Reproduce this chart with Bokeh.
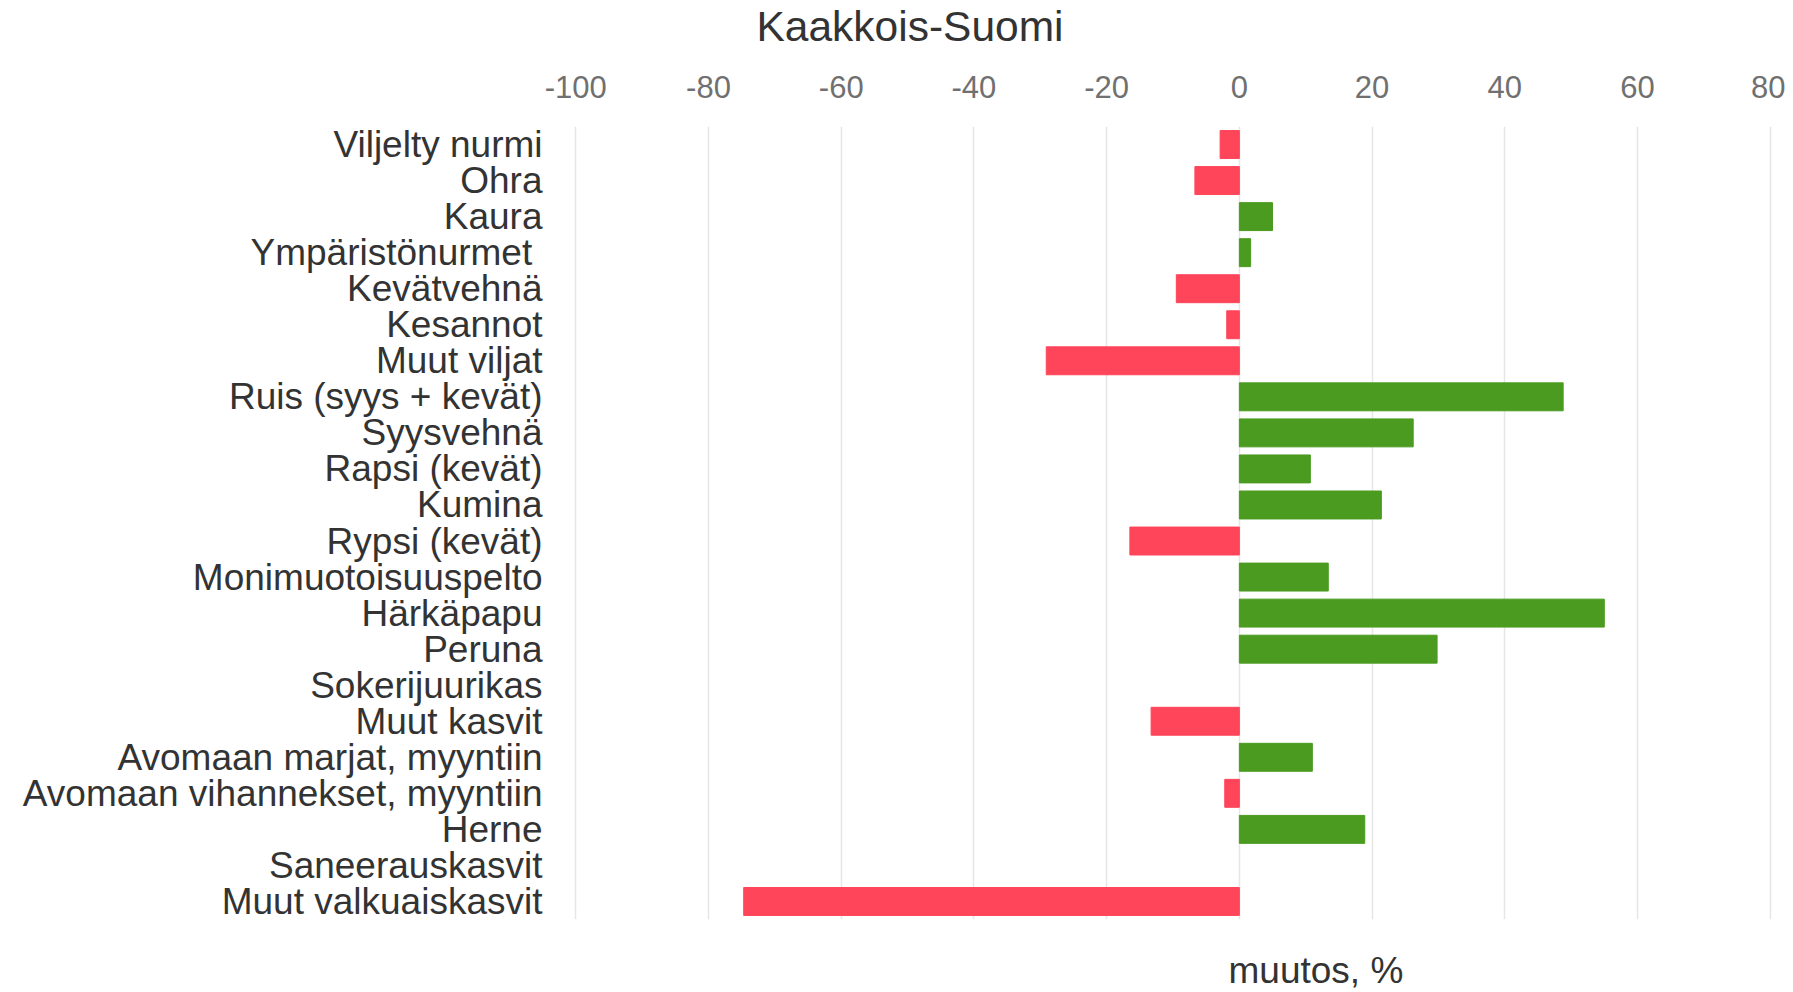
import math
from bokeh.plotting import figure
from bokeh.models import FactorRange, Range1d, FixedTicker, Title, ColumnDataSource, CustomJSTickFormatter
from bokeh.embed import file_html
from bokeh.resources import INLINE

categories = [
    "Viljelty nurmi", "Ohra", "Kaura", "Ympäristönurmet ", "Kevätvehnä", "Kesannot",
    "Muut viljat", "Ruis (syys + kevät)", "Syysvehnä", "Rapsi (kevät)", "Kumina",
    "Rypsi (kevät)", "Monimuotoisuuspelto", "Härkäpapu", "Peruna", "Sokerijuurikas",
    "Muut kasvit", "Avomaan marjat, myyntiin", "Avomaan vihannekset, myyntiin",
    "Herne", "Saneerauskasvit", "Muut valkuaiskasvit",
]
changes = [
    -2.9, -6.7, 5.0, 1.7, -9.5, -1.9,
    -29.1, 48.8, 26.2, 10.7, 21.4,
    -16.5, 13.4, 55.0, 29.8, float("nan"),
    -13.3, 11.0, -2.2,
    18.9, float("nan"), -74.7,
]
tick_values = [-100, -80, -60, -40, -20, 0, 20, 40, 60, 80]
title_text = "Kaakkois-Suomi"
axis_label_text = "muutos, %"

RED = "#ff455a"
GREEN = "#4a9b1f"
colors = [RED if (not math.isnan(v) and v < 0) else GREEN for v in changes]

src = ColumnDataSource(dict(cat=categories, val=changes, col=colors))

FONT = "Liberation Sans"

p = figure(
    width=1785, height=992,
    y_range=FactorRange(factors=list(reversed(categories)), range_padding=0),
    x_range=Range1d(-100.5, 80.5),
    x_axis_location="above",
    output_backend="svg", toolbar_location=None,
    min_border_left=572, min_border_right=12,
    min_border_top=126, min_border_bottom=73,
    title=None,
)
p.outline_line_color = None

p.hbar(y="cat", left=0, right="val", height=0.775, color="col", source=src)

xa = p.xaxis[0]
xa.ticker = FixedTicker(ticks=tick_values)
xa.formatter = CustomJSTickFormatter(code="return tick.toFixed(0)")
xa.axis_line_color = None
xa.major_tick_line_color = None
xa.minor_tick_line_color = None
xa.major_tick_out = 0
xa.major_tick_in = 0
xa.major_label_standoff = 29
xa.major_label_text_font = FONT
xa.major_label_text_font_size = "31px"
xa.major_label_text_color = "#707070"

ya = p.yaxis[0]
ya.axis_line_color = None
ya.major_tick_line_color = None
ya.minor_tick_line_color = None
ya.major_tick_out = 0
ya.major_tick_in = 0
ya.major_label_standoff = 30
ya.major_label_text_font = FONT
ya.major_label_text_font_size = "37px"
ya.major_label_text_color = "#333333"

p.xgrid.ticker = FixedTicker(ticks=tick_values)
p.xgrid.grid_line_color = "#e6e6e6"
p.xgrid.grid_line_width = 1.5
p.ygrid.grid_line_color = None

# above: axis (nearest the frame), spacer, title
p.add_layout(Title(text=" ", text_font_size="1px", standoff=19.5), "above")
p.add_layout(Title(text=title_text, align="left", offset=184, text_font=FONT,
                   text_font_size="42.5px", text_font_style="normal",
                   text_color="#333333", standoff=0), "above")

# below: spacer, axis label
p.add_layout(Title(text=" ", text_font_size="1px", standoff=25), "below")
p.add_layout(Title(text=axis_label_text, align="left", offset=656, text_font=FONT,
                   text_font_size="37px", text_font_style="normal",
                   text_color="#333333", standoff=0), "below")

open("out.html", "w").write(file_html(p, INLINE))
